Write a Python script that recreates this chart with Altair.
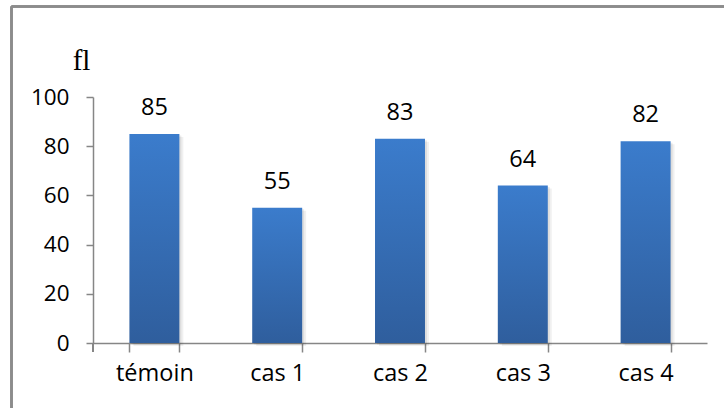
import altair as alt
import pandas as pd

# Mean corpuscular volume by group
categories = ["témoin", "cas 1", "cas 2", "cas 3", "cas 4"]
values = [85, 55, 83, 64, 82]

df = pd.DataFrame({"groupe": categories, "vgm": values})

AXIS_GRAY = "#868686"
FONT = "Open Sans"

x_enc = alt.X(
    "groupe:N",
    sort=categories,
    scale=alt.Scale(paddingInner=0.593, paddingOuter=0.2965),
    axis=alt.Axis(
        title=None,
        labelAngle=0,
        labelFont=FONT,
        labelFontSize=23.5,
        labelColor="#000000",
        labelPadding=9,
        ticks=True,
        tickBand="extent",
        tickSize=9,
        tickColor=AXIS_GRAY,
        tickWidth=1.5,
        domainColor=AXIS_GRAY,
        domainWidth=1.5,
        grid=False,
    ),
)

y_enc = alt.Y(
    "vgm:Q",
    scale=alt.Scale(domain=[0, 100], nice=False),
    axis=alt.Axis(
        values=[0, 20, 40, 60, 80, 100],
        title="fl",
        titleAngle=0,
        titleFont="Liberation Serif",
        titleFontSize=29,
        titleFontWeight="normal",
        titleColor="#000000",
        titleAlign="center",
        titleBaseline="alphabetic",
        titleX=-12,
        titleY=-28,
        labelFont=FONT,
        labelFontSize=22.5,
        labelColor="#000000",
        labelPadding=17,
        ticks=True,
        tickSize=7,
        tickColor=AXIS_GRAY,
        tickWidth=1.5,
        domainColor=AXIS_GRAY,
        domainWidth=1.5,
        grid=False,
    ),
)

base = alt.Chart(df).encode(x=x_enc, y=y_enc)

# soft drop shadow behind each bar
shadow_outer = base.mark_bar(color="#000000", opacity=0.06, xOffset=4, yOffset=3)
shadow_inner = base.mark_bar(color="#000000", opacity=0.08, xOffset=2, yOffset=1.5)

bars = base.mark_bar(
    color=alt.LinearGradient(
        gradient="linear",
        x1=0, x2=0, y1=0, y2=1,
        stops=[
            alt.GradientStop(color="#3B7CCC", offset=0),
            alt.GradientStop(color="#2F5E9D", offset=1),
        ],
    )
)

labels = base.mark_text(
    font=FONT, fontSize=23.5, color="#000000", baseline="alphabetic", dy=-19
).encode(text="vgm:Q")

# the y axis line continues down to the end of the first x tick
y_stub = alt.Chart(df).mark_rule(color=AXIS_GRAY, strokeWidth=1.5).encode(
    x=alt.value(0), y=alt.value(246), y2=alt.value(255)
)

# outer chart frame
frame_left = alt.Chart(df).mark_rule(color="#8C8C8C", strokeWidth=2).encode(
    x=alt.value(-81.5), y=alt.value(-90.5), y2=alt.value(320)
)
frame_top = alt.Chart(df).mark_rule(color="#8C8C8C", strokeWidth=2).encode(
    y=alt.value(-90.5), x=alt.value(-81.5), x2=alt.value(640)
)

chart = (
    alt.layer(frame_left, frame_top, shadow_outer, shadow_inner, bars, labels, y_stub)
    .properties(
        width=614,
        height=246,
        autosize=alt.AutoSizeParams(type="none"),
        padding={"left": 93, "top": 97, "right": 17, "bottom": 65},
        background="white",
    )
    .configure_view(stroke=None)
)

chart.save("out.html", embed_options={"renderer": "svg", "actions": False})
